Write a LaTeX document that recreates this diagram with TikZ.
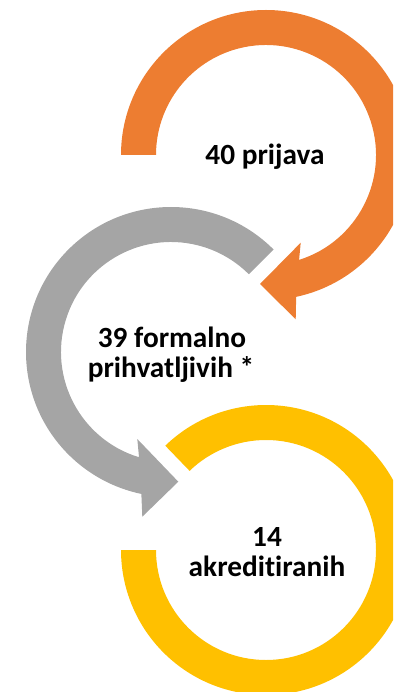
\documentclass[tikz,border=0pt]{standalone}
\usepackage{fontspec}
\setmainfont[Ligatures={NoCommon,NoContextual}]{Carlito}
\definecolor{orng}{HTML}{ED7D31}
\definecolor{gry}{HTML}{A5A5A5}
\definecolor{ylw}{HTML}{FFC000}
\begin{document}
\begin{tikzpicture}[x=1pt,y=1pt,
  lbl/.style={font=\fontsize{29.3}{30}\selectfont\bfseries, text=black, anchor=base, inner sep=0pt}]
\useasboundingbox (0,0) rectangle (393,-692);
\clip (0,0) rectangle (393,-692);
\coordinate (co) at (266,-155);
\coordinate (cg) at (171,-352);
\coordinate (cy) at (266,-550);
% orange arrow
\fill[orng] ([shift={(180:145)}]co) arc[start angle=180,end angle=-78,radius=145]
  -- (295.7,-319.3) -- (260,-284) -- (300.7,-242.7)
  -- ([shift={(-72.5:110)}]co) arc[start angle=-72.5,end angle=180,radius=110] -- cycle;
% gray arrow
\fill[gry] ([shift={(45:145)}]cg) arc[start angle=45,end angle=258.2,radius=145]
  -- (142.3,-516.7) -- (178.3,-481.7) -- (137.3,-439)
  -- ([shift={(253.1:110)}]cg) arc[start angle=253.1,end angle=45,radius=110] -- cycle;
% yellow ring
\fill[ylw] ([shift={(134:145)}]cy) arc[start angle=134,end angle=-180,radius=145]
  -- ([shift={(180:110)}]cy) arc[start angle=-180,end angle=134,radius=110] -- cycle;
% labels
\node[lbl] (t1) at (265,-165) {40 prijava};
\node[lbl] (t2a) at (172,-347) {39 formalno};
\node[lbl] (t2b) at (171,-377) {prihvatljivih *};
\node[lbl] (t3a) at (267,-546) {14};
\node[lbl] (t3b) at (267,-576) {akreditiranih};
\end{tikzpicture}
\end{document}
